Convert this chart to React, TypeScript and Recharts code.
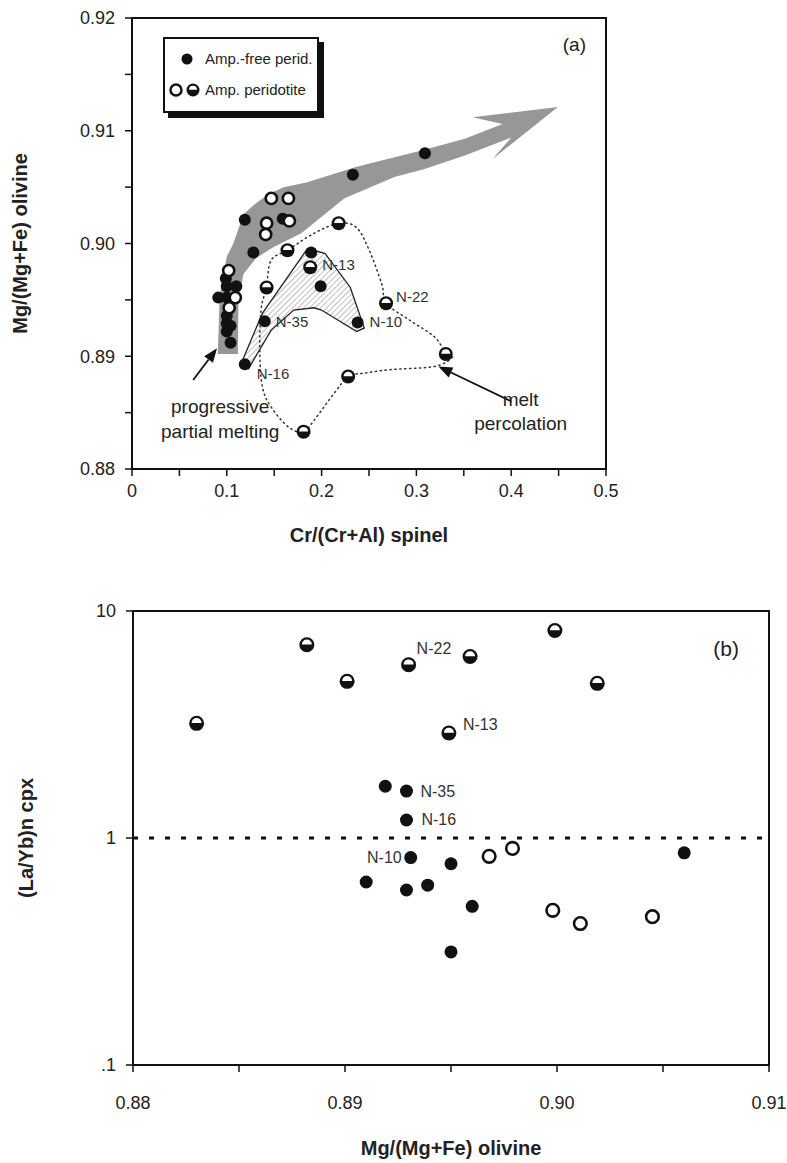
import React from "react";
import {
  ScatterChart,
  Scatter,
  XAxis,
  YAxis,
  ReferenceArea,
  ReferenceLine,
} from "recharts";

// ---- panel (a): Cr/(Cr+Al) spinel vs Mg/(Mg+Fe) olivine ----
const A_FREE: [number, number][] = [
  [0.309, 0.908], [0.233, 0.9061], [0.119, 0.9021], [0.159, 0.9022], [0.128, 0.8992],
  [0.189, 0.8992], [0.199, 0.8962], [0.14, 0.8931], [0.119, 0.8893], [0.238, 0.893],
  [0.099, 0.8969], [0.1, 0.8962], [0.11, 0.8962], [0.091, 0.8952], [0.1, 0.8952],
  [0.1, 0.8936], [0.1, 0.8929], [0.104, 0.8927], [0.1, 0.8922], [0.104, 0.8912],
];
const A_OPEN: [number, number][] = [
  [0.147, 0.904], [0.165, 0.904], [0.142, 0.9018], [0.141, 0.9008], [0.166, 0.902],
  [0.102, 0.8976], [0.109, 0.8952], [0.1025, 0.8943],
];
const A_HALF: [number, number][] = [
  [0.218, 0.9018], [0.164, 0.8994], [0.188, 0.8979], [0.142, 0.8961], [0.268, 0.8947],
  [0.331, 0.8902], [0.228, 0.8882], [0.181, 0.8833],
];
const A_LABELS: [string, number, number][] = [
  ["N-13", 0.188, 0.8979], ["N-35", 0.14, 0.8931], ["N-10", 0.238, 0.893],
  ["N-22", 0.268, 0.8947], ["N-16", 0.119, 0.8893],
];
// grey "progressive partial melting" trend band, with arrow head
const A_TREND: [number, number][] = [
  [0.0905, 0.8902], [0.0924, 0.895], [0.0948, 0.8967], [0.1003, 0.8989], [0.1069, 0.9],
  [0.1176, 0.9026], [0.1282, 0.9034], [0.1441, 0.9044], [0.16, 0.905], [0.1839, 0.9054],
  [0.237, 0.9068], [0.3033, 0.9082], [0.3511, 0.9093], [0.3909, 0.9106], [0.3591, 0.9112],
  [0.4493, 0.9121], [0.3803, 0.9075], [0.4002, 0.9094], [0.3511, 0.9078], [0.3087, 0.9066],
  [0.2768, 0.9059], [0.2237, 0.904], [0.1786, 0.9009], [0.1494, 0.8997], [0.1308, 0.8987],
  [0.1176, 0.8973], [0.1122, 0.895], [0.1117, 0.8902],
];
const A_HATCH: [number, number][] = [
  [0.1154, 0.8894], [0.1375, 0.8938], [0.1839, 0.8994], [0.1919, 0.8994], [0.2038, 0.8991],
  [0.2303, 0.8961], [0.245, 0.8925], [0.237, 0.8922], [0.1998, 0.8941], [0.1919, 0.8943],
  [0.1706, 0.8941], [0.1467, 0.8923], [0.1229, 0.8889],
];
const A_PERCOLATION: [number, number][] = [
  [0.1417, 0.8961], [0.1467, 0.8985], [0.164, 0.8994], [0.1919, 0.9009], [0.2184, 0.9018],
  [0.237, 0.9014], [0.2502, 0.8994], [0.2635, 0.8964], [0.2683, 0.8947], [0.2928, 0.8932],
  [0.3193, 0.8917], [0.3312, 0.8902], [0.3378, 0.8899], [0.3193, 0.8891], [0.2715, 0.8888],
  [0.245, 0.8885], [0.2283, 0.8882], [0.2131, 0.8867], [0.1919, 0.8843], [0.1807, 0.8833],
  [0.1654, 0.8837], [0.1467, 0.8855], [0.1375, 0.8873], [0.1348, 0.8905], [0.1361, 0.8941],
];
const A_ARROW_MELTING: [number, number][] = [[0.0645, 0.8879], [0.0897, 0.8907]];
const A_ARROW_PERCOLATION: [number, number][] = [[0.4, 0.886], [0.3232, 0.8891]];
const A_NOTES: [string, number, number][] = [
  ["progressive", 0.093, 0.8855], ["partial melting", 0.093, 0.8833],
  ["melt", 0.41, 0.8862], ["percolation", 0.41, 0.884],
];
const A_X_TICKS = [0, 0.05, 0.1, 0.15, 0.2, 0.25, 0.3, 0.35, 0.4, 0.45, 0.5];
const A_Y_TICKS = [0.88, 0.885, 0.89, 0.895, 0.9, 0.905, 0.91, 0.915, 0.92];

// ---- panel (b): Mg/(Mg+Fe) olivine vs (La/Yb)n cpx ----
const B_FREE: [number, number][] = [
  [0.8919, 1.69], [0.8929, 1.61], [0.8929, 1.2], [0.8931, 0.82], [0.895, 0.77],
  [0.891, 0.64], [0.8929, 0.59], [0.8939, 0.62], [0.896, 0.5], [0.895, 0.315], [0.906, 0.86],
];
const B_OPEN: [number, number][] = [
  [0.8968, 0.83], [0.8979, 0.9], [0.8998, 0.48], [0.9011, 0.42], [0.9045, 0.45],
];
const B_HALF: [number, number][] = [
  [0.883, 3.2], [0.8882, 7.1], [0.8901, 4.9], [0.893, 5.8], [0.8959, 6.3],
  [0.8949, 2.9], [0.8999, 8.2], [0.9019, 4.8],
];
const B_LABELS: [string, number, number][] = [
  ["N-22", 0.893, 5.8], ["N-13", 0.8949, 2.9], ["N-35", 0.8929, 1.61],
  ["N-16", 0.8929, 1.2], ["N-10", 0.8931, 0.82],
];
const B_X_TICKS = [0.88, 0.885, 0.89, 0.895, 0.9, 0.905, 0.91];
const B_Y_MAJOR = [0.1, 1, 10];
const B_Y_MINOR = [0.2, 0.3, 0.4, 0.5, 0.6, 0.7, 0.8, 0.9, 2, 3, 4, 5, 6, 7, 8, 9];

const FONT = "'Liberation Sans', Arial, Helvetica, sans-serif";
const INK = "#111";

const pts = (rows: [number, number][]) => rows.map(([x, y]) => ({ x, y }));
const named = (rows: [string, number, number][]) => rows.map(([name, x, y]) => ({ name, x, y }));

// label offsets (px) from their point
const A_LABEL_POS: Record<string, [number, number, string]> = {
  "N-13": [12, -3, "start"], "N-35": [11, 0, "start"], "N-10": [12, -1, "start"],
  "N-22": [10, -7, "start"], "N-16": [12, 9, "start"],
};
const B_LABEL_POS: Record<string, [number, number, string]> = {
  "N-22": [8, -16, "start"], "N-13": [14, -9, "start"], "N-35": [14, 0, "start"],
  "N-16": [15, -1, "start"], "N-10": [-9, 0, "end"],
};

const Nothing = () => <g />;

const dot = (r: number) => (p: any) => <circle cx={p.cx} cy={p.cy} r={r} fill={INK} />;
const ring = (r: number) => (p: any) => (
  <circle cx={p.cx} cy={p.cy} r={r} fill="#fff" stroke={INK} strokeWidth={2.6} />
);
const half = (r: number) => (p: any) => {
  const w = r - 2.5;
  const y = p.cy - 0.3;
  return (
    <g>
      <circle cx={p.cx} cy={p.cy} r={r} fill={INK} />
      <path d={`M${p.cx - w},${y} A${w},${w} 0 0 1 ${p.cx + w},${y} Z`} fill="#fff" />
    </g>
  );
};

const labelShape = (pos: Record<string, [number, number, string]>, size: number) => (p: any) => {
  const [dx, dy, anchor] = pos[p.payload.name] || [10, 0, "start"];
  return (
    <text x={p.cx + dx} y={p.cy + dy} textAnchor={anchor} dominantBaseline="central"
      fontFamily={FONT} fontSize={size} fill="#333">
      {p.payload.name}
    </text>
  );
};

const noteShape = (p: any) => (
  <text x={p.cx} y={p.cy} textAnchor="middle" dominantBaseline="central"
    fontFamily={FONT} fontSize={19} fill="#222">
    {p.payload.name}
  </text>
);

const polyPath = (points: { x: number; y: number }[]) =>
  points.map((q, i) => `${i ? "L" : "M"}${q.x},${q.y}`).join(" ") + " Z";

const smoothClosed = (p: { x: number; y: number }[]) => {
  const n = p.length;
  let d = `M${p[0].x},${p[0].y}`;
  for (let i = 0; i < n; i++) {
    const p0 = p[(i - 1 + n) % n], p1 = p[i], p2 = p[(i + 1) % n], p3 = p[(i + 2) % n];
    const c1x = p1.x + (p2.x - p0.x) / 6, c1y = p1.y + (p2.y - p0.y) / 6;
    const c2x = p2.x - (p3.x - p1.x) / 6, c2y = p2.y - (p3.y - p1.y) / 6;
    d += ` C${c1x},${c1y} ${c2x},${c2y} ${p2.x},${p2.y}`;
  }
  return d + " Z";
};

const trendLine = (props: any) => <path d={polyPath(props.points)} fill="#979797" stroke="none" />;

const hatchLine = (props: any) => (
  <g>
    <defs>
      <pattern id="hatch" width="4" height="4" patternUnits="userSpaceOnUse" patternTransform="rotate(45)">
        <line x1="0" y1="0" x2="0" y2="4" stroke="#8a8a8a" strokeWidth="1.1" />
      </pattern>
    </defs>
    <path d={polyPath(props.points)} fill="url(#hatch)" stroke="#222" strokeWidth={1.3} />
  </g>
);

const percolationLine = (props: any) => (
  <path d={smoothClosed(props.points)} fill="none" stroke="#333" strokeWidth={1.5}
    strokeDasharray="1.3 3.6" strokeLinecap="round" />
);

const arrowLine = (props: any) => {
  const [a, b] = props.points;
  const ang = Math.atan2(b.y - a.y, b.x - a.x);
  const L = 14, W = 5.5;
  const bx = b.x - L * Math.cos(ang), by = b.y - L * Math.sin(ang);
  const s = Math.sin(ang), c = Math.cos(ang);
  return (
    <g>
      <line x1={a.x} y1={a.y} x2={bx} y2={by} stroke={INK} strokeWidth={1.8} />
      <polygon points={`${b.x},${b.y} ${bx + W * s},${by - W * c} ${bx - W * s},${by + W * c}`} fill={INK} />
    </g>
  );
};

const tickStyle = { fontSize: 18, fill: "#222", fontFamily: FONT };
const axisLine = { stroke: INK, strokeWidth: 2 };
const tickLine = { stroke: INK, strokeWidth: 1.5 };

const yTitle = (text: string, dx: number) => (props: any) => {
  const vb = props.viewBox || {};
  const x = (vb.x ?? 0) + dx;
  const y = (vb.y ?? 0) + (vb.height ?? 0) / 2;
  return (
    <text x={x} y={y} transform={`rotate(-90 ${x} ${y})`} textAnchor="middle" dominantBaseline="central"
      fontFamily={FONT} fontSize={20} fontWeight="bold" fill="#222">
      {text}
    </text>
  );
};
const xTitle = (text: string) => (props: any) => {
  const vb = props.viewBox || {};
  const x = (vb.x ?? 0) + (vb.width ?? 0) / 2;
  const y = (vb.y ?? 0) + (vb.height ?? 0) - 14;
  return (
    <text x={x} y={y} textAnchor="middle" dominantBaseline="central"
      fontFamily={FONT} fontSize={20} fontWeight="bold" fill="#222">
      {text}
    </text>
  );
};

const fmtA = (v: number) => {
  const major = Math.abs(v * 10 - Math.round(v * 10)) < 1e-6;
  return major ? (v === 0 ? "0" : String(Number(v.toFixed(1)))) : "";
};
const fmtAY = (v: number) => (Math.abs(v * 100 - Math.round(v * 100)) < 1e-6 ? v.toFixed(2) : "");
const fmtBX = (v: number) => (Math.abs(v * 100 - Math.round(v * 100)) < 1e-6 ? v.toFixed(2) : "");
const fmtBY = (v: number) => (v === 0.1 ? ".1" : String(v));

function LegendBox() {
  return (
    <div style={{
      position: "absolute", left: 163, top: 37, width: 152, height: 72,
      border: `2px solid ${INK}`, background: "#fff", boxShadow: `5px 5px 0 ${INK}`,
      fontFamily: FONT, fontSize: 15, color: "#222",
    }}>
      <svg width={42} height={72} style={{ position: "absolute", left: 0, top: 0 }}>
        <circle cx={22} cy={20} r={5.5} fill={INK} />
        <circle cx={11} cy={51} r={5.5} fill="#fff" stroke={INK} strokeWidth={2.4} />
        <circle cx={28} cy={51} r={6.5} fill={INK} />
        <path d="M24,50.7 A4,4 0 0 1 32,50.7 Z" fill="#fff" />
      </svg>
      <div style={{ position: "absolute", left: 40, top: 11, whiteSpace: "nowrap" }}>Amp.-free perid.</div>
      <div style={{ position: "absolute", left: 40, top: 42, whiteSpace: "nowrap" }}>Amp. peridotite</div>
    </div>
  );
}

function PanelA() {
  return (
    <ScatterChart width={787} height={560} margin={{ top: 18, right: 181, left: 26, bottom: 11 }}>
      <XAxis type="number" dataKey="x" domain={[0, 0.5]} ticks={A_X_TICKS} interval={0}
        tickFormatter={fmtA} tick={tickStyle} axisLine={axisLine} tickLine={tickLine}
        tickSize={7} tickMargin={8} height={80} allowDataOverflow
        label={{ content: xTitle("Cr/(Cr+Al) spinel") }} />
      <YAxis type="number" dataKey="y" domain={[0.88, 0.92]} ticks={A_Y_TICKS} interval={0}
        tickFormatter={fmtAY} tick={tickStyle} axisLine={axisLine} tickLine={tickLine}
        tickSize={7} tickMargin={10} width={106} allowDataOverflow
        label={{ content: yTitle("Mg/(Mg+Fe) olivine", -6) }} />
      <ReferenceArea x1={0} x2={0.5} y1={0.88} y2={0.92} fill="none" stroke={INK} strokeWidth={2}
        label={{ value: "(a)", position: "insideTopRight", offset: 20, fontSize: 19, fill: "#222", fontFamily: FONT }} />
      <Scatter data={pts(A_TREND)} shape={Nothing} line={trendLine} isAnimationActive={false} />
      <Scatter data={pts(A_HATCH)} shape={Nothing} line={hatchLine} isAnimationActive={false} />
      <Scatter data={pts(A_PERCOLATION)} shape={Nothing} line={percolationLine} isAnimationActive={false} />
      <Scatter data={pts(A_ARROW_MELTING)} shape={Nothing} line={arrowLine} isAnimationActive={false} />
      <Scatter data={pts(A_ARROW_PERCOLATION)} shape={Nothing} line={arrowLine} isAnimationActive={false} />
      <Scatter data={pts(A_FREE)} shape={dot(6)} isAnimationActive={false} />
      <Scatter data={pts(A_OPEN)} shape={ring(5.6)} isAnimationActive={false} />
      <Scatter data={pts(A_HALF)} shape={half(7)} isAnimationActive={false} />
      <Scatter data={named(A_LABELS)} shape={labelShape(A_LABEL_POS, 15)} isAnimationActive={false} />
      <Scatter data={named(A_NOTES)} shape={noteShape} isAnimationActive={false} />
    </ScatterChart>
  );
}

function PanelB() {
  return (
    <ScatterChart width={787} height={603} margin={{ top: 51, right: 18, left: 27, bottom: 1 }}>
      <XAxis type="number" dataKey="x" domain={[0.88, 0.91]} ticks={B_X_TICKS} interval={0}
        tickFormatter={fmtBX} tick={tickStyle} axisLine={axisLine} tickLine={tickLine}
        tickSize={7} tickMargin={24} height={97} allowDataOverflow
        label={{ content: xTitle("Mg/(Mg+Fe) olivine") }} />
      {/* minor log ticks point inwards, majors outwards */}
      <YAxis yAxisId="minor" type="number" dataKey="y" scale="log" domain={[0.1, 10]} ticks={B_Y_MINOR}
        interval={0} mirror tick={false} axisLine={false} tickLine={tickLine} tickSize={6} width={0}
        allowDataOverflow />
      <YAxis type="number" dataKey="y" scale="log" domain={[0.1, 10]} ticks={B_Y_MAJOR} interval={0}
        tickFormatter={fmtBY} tick={tickStyle} axisLine={axisLine} tickLine={tickLine}
        tickSize={7} tickMargin={10} width={106} allowDataOverflow
        label={{ content: yTitle("(La/Yb)n cpx", -1) }} />
      <ReferenceArea x1={0.88} x2={0.91} y1={0.1} y2={10} fill="none" stroke={INK} strokeWidth={2}
        label={{ value: "(b)", position: "insideTopRight", offset: 30, fontSize: 21, fill: "#222", fontFamily: FONT }} />
      <ReferenceLine y={1} stroke={INK} strokeWidth={3} strokeDasharray="5 11" />
      <Scatter data={pts(B_FREE)} shape={dot(6.5)} isAnimationActive={false} />
      <Scatter data={pts(B_OPEN)} shape={ring(6.3)} isAnimationActive={false} />
      <Scatter data={pts(B_HALF)} shape={half(7.5)} isAnimationActive={false} />
      <Scatter data={named(B_LABELS)} shape={labelShape(B_LABEL_POS, 16)} isAnimationActive={false} />
    </ScatterChart>
  );
}

export default function App() {
  return (
    <div style={{ position: "absolute", left: 0, top: 0, width: 787, height: 1163, background: "#fff", fontFamily: FONT }}>
      <div style={{ position: "absolute", left: 0, top: 0 }}>
        <PanelA />
      </div>
      <LegendBox />
      <div style={{ position: "absolute", left: 0, top: 560 }}>
        <PanelB />
      </div>
    </div>
  );
}
